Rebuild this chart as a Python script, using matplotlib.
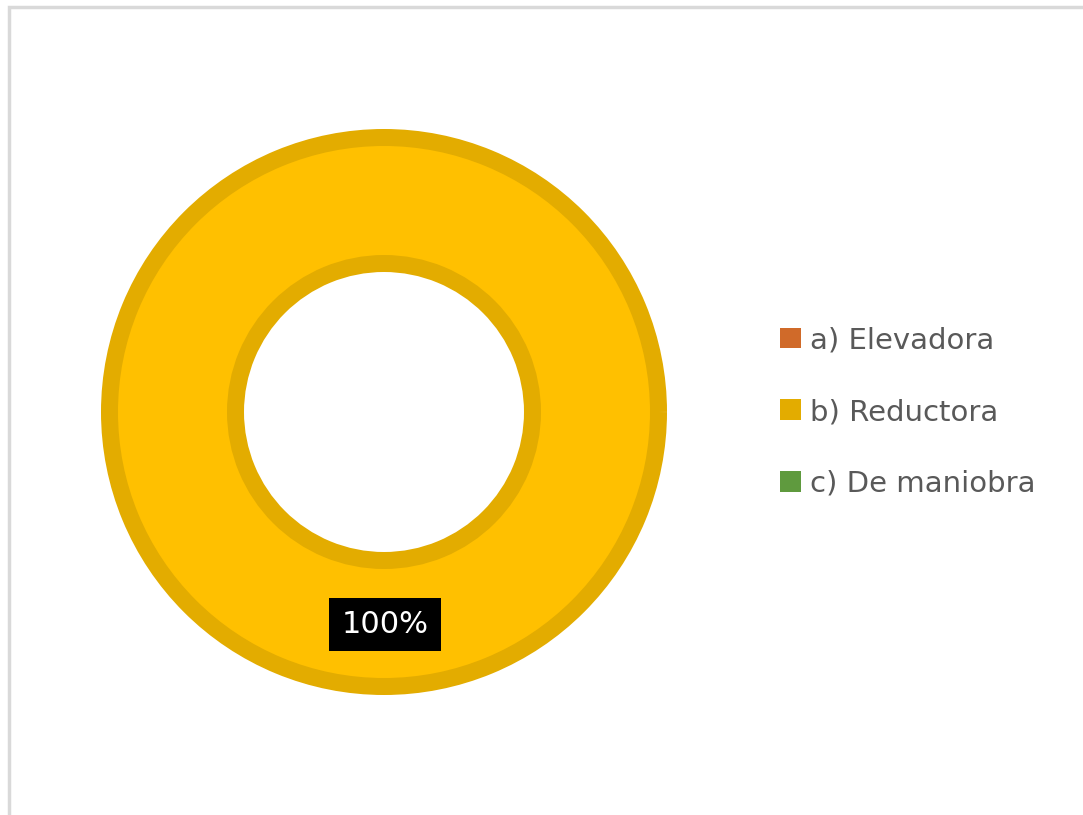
import matplotlib
matplotlib.use("Agg")
import matplotlib.pyplot as plt
from matplotlib.patches import Patch, Rectangle

# data
categories = ["a) Elevadora", "b) Reductora", "c) De maniobra"]
percentages = [0, 100, 0]
fill_colors = ["#ED7D31", "#FFC000", "#70AD47"]
edge_colors = ["#D06A29", "#E3AC00", "#5F9A3E"]

W, H = 1083, 815
fig = plt.figure(figsize=(W / 100, H / 100), dpi=100)
fig.patch.set_facecolor("white")

# light grey chart-area border (cropped at right/bottom)
fig.patches.append(Rectangle((9 / W, -0.2), 1.2, 1.2 - 7 / H,
                             transform=fig.transFigure, fill=False,
                             edgecolor="#D9D9D9", linewidth=2.5))

# pie axes: centre (384, 412) px, outer radius 283 px
cx, cy, R = 384, 412, 283
ax = fig.add_axes([(cx - R) / W, 1 - (cy + R) / H, 2 * R / W, 2 * R / H])

stroke = 17  # px
r_out = (R - stroke / 2) / R
ring = (R - stroke / 2 - (140 + stroke / 2)) / R

wedges, _ = ax.pie(percentages, colors=fill_colors, startangle=90, counterclock=False,
                   radius=r_out, wedgeprops=dict(width=ring, linewidth=stroke * 0.72))
for w, ec, v in zip(wedges, edge_colors, percentages):
    w.set_edgecolor(ec)
    if v == 0:
        w.set_visible(False)
ax.set_xlim(-1, 1)
ax.set_ylim(-1, 1)
ax.set_aspect("equal")
ax.axis("off")

# data label in the middle of the ring at the bottom
r_mid = r_out - ring / 2
for v in percentages:
    if v > 0:
        ax.text(0.003, -r_mid * 1.005, f"{v}%", ha="center", va="center", color="white",
                fontsize=22, family="DejaVu Sans",
                bbox=dict(boxstyle="square,pad=0.4", facecolor="black", edgecolor="none"))

handles = [Patch(facecolor=c, edgecolor="none") for c in edge_colors]
fig.legend(handles, categories, loc="center left", bbox_to_anchor=(754 / W, 1 - 412 / H),
           frameon=False, prop={"family": "DejaVu Sans", "size": 21},
           labelcolor="#595959", handlelength=0.72, handleheight=0.72,
           handletextpad=0.3, labelspacing=1.5)

fig.savefig("out.png", dpi=100, facecolor="white")
